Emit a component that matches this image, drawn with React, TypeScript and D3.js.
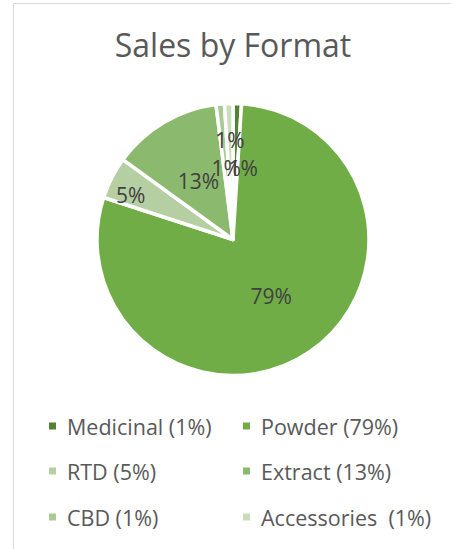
import React from "react";
import * as d3 from "d3";

const categories = ["Medicinal", "Powder", "RTD", "Extract", "CBD", "Accessories"];
const values = [1, 79, 5, 13, 1, 1];
const legendLabels = ["Medicinal (1%)", "Powder (79%)", "RTD (5%)", "Extract (13%)", "CBD (1%)", "Accessories  (1%)"];
const colors = ["#548235", "#70AD47", "#B5CFA3", "#8BBA6E", "#A9CA94", "#C8DEBB"];
const title = "Sales by Format";

const W = 451;
const H = 549;
const FONT = "'Open Sans', sans-serif";

export default function App() {
  const cx = 233;
  const cy = 239.5;
  const R = 136;
  const total = d3.sum(values);
  const pie = d3.pie<number>().sort(null).value((d) => d);
  const arcs = pie(values);
  const arcGen = d3.arc<d3.PieArcDatum<number>>().innerRadius(0).outerRadius(R);

  const labelPos = (a: d3.PieArcDatum<number>, i: number) => {
    const frac = a.value / total;
    const prevSmall = i > 0 && values[i - 1] / total < 0.03;
    let f = 0.5;
    let ang = (a.startAngle + a.endAngle) / 2;
    if (frac < 0.03) {
      f = prevSmall ? 0.73 : 0.53;
      if (i === 0) ang = a.endAngle + 0.08;
    } else if (frac < 0.1) {
      f = 0.82;
      ang -= 0.06;
    }
    const r = R * f;
    return [Math.sin(ang) * r, -Math.cos(ang) * r];
  };

  const legendCols = [49, 243];
  const legendRows = [426, 471, 517];

  return (
    <svg width={W} height={H} style={{ position: "absolute", left: 0, top: 0 }}>
      <rect x={0} y={0} width={W} height={H} fill="#ffffff" />
      <rect x={13.5} y={3.5} width={W + 20} height={H + 20} fill="#ffffff" stroke="#D9D9D9" strokeWidth={1} />
      <text x={cx} y={57} textAnchor="middle" fontFamily={FONT} fontSize={32} fill="#595959">
        {title}
      </text>
      <g transform={`translate(${cx},${cy})`}>
        {arcs.map((a, i) => (
          <path key={categories[i]} d={arcGen(a) || ""} fill={colors[i]} stroke="#ffffff" strokeWidth={3.5} strokeLinejoin="round" />
        ))}
        {arcs.map((a, i) => {
          const [x, y] = labelPos(a, i);
          return (
            <text key={"l" + i} x={x} y={y} textAnchor="middle" dominantBaseline="central" fontFamily={FONT} fontSize={21} fill="#404040">
              {`${Math.round((a.value / total) * 100)}%`}
            </text>
          );
        })}
      </g>
      {categories.map((c, i) => {
        const col = i % 2;
        const row = Math.floor(i / 2);
        const x = legendCols[col];
        const y = legendRows[row];
        return (
          <g key={"lg" + c}>
            <rect x={x} y={y - 3.5} width={7} height={7} fill={colors[i]} />
            <text x={x + 18} y={y} dominantBaseline="central" fontFamily={FONT} fontSize={21.5} fill="#595959" style={{ whiteSpace: "pre" }}>
              {legendLabels[i]}
            </text>
          </g>
        );
      })}
    </svg>
  );
}
